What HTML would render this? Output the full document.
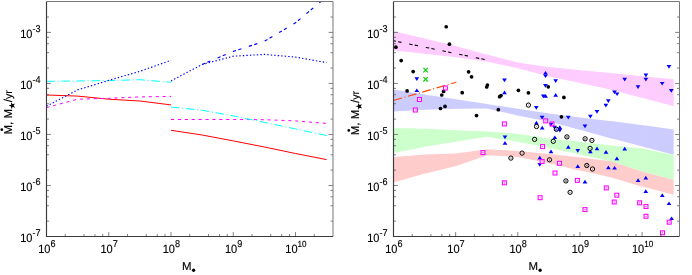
<!DOCTYPE html>
<html><head><meta charset="utf-8"><title>plot</title>
<style>
html,body{margin:0;padding:0;background:#fff;}
svg{display:block;}
text{font-family:"Liberation Sans",sans-serif;fill:#000;stroke:#000;stroke-width:0.12px;text-rendering:geometricPrecision;}
svg{will-change:transform;}
</style></head><body>
<svg width="692" height="275" viewBox="0 0 692 275">
<rect width="692" height="275" fill="#fff"/>
<polygon points="393.50,31.30 425.02,38.50 425.02,53.75 393.50,50.40" fill="#ffccff"/>
<polygon points="424.57,38.40 456.10,46.11 456.10,57.35 424.57,53.70" fill="#ffccff"/>
<polygon points="455.65,46.00 487.18,54.72 487.18,61.76 455.65,57.30" fill="#ffccff"/>
<polygon points="486.73,54.60 518.25,62.61 518.25,68.29 486.73,61.70" fill="#ffccff"/>
<polygon points="517.80,62.50 549.33,67.17 549.33,76.62 517.80,68.20" fill="#ffccff"/>
<polygon points="548.88,67.10 580.40,70.35 580.40,83.09 548.88,76.50" fill="#ffccff"/>
<polygon points="579.95,70.30 611.48,73.04 611.48,89.80 579.95,83.00" fill="#ffccff"/>
<polygon points="611.02,73.00 642.55,76.25 642.55,97.92 611.02,89.70" fill="#ffccff"/>
<polygon points="642.10,76.20 673.70,79.20 673.70,106.20 642.10,97.80" fill="#ffccff"/>
<polygon points="393.50,89.60 425.02,94.47 425.02,109.78 393.50,111.50" fill="#ccccff"/>
<polygon points="424.57,94.40 456.10,99.37 456.10,108.68 424.57,109.80" fill="#ccccff"/>
<polygon points="455.65,99.30 487.18,103.97 487.18,108.50 455.65,108.70" fill="#ccccff"/>
<polygon points="486.73,103.90 518.25,108.87 518.25,115.70 486.73,108.50" fill="#ccccff"/>
<polygon points="517.80,108.80 549.33,113.47 549.33,121.69 517.80,115.60" fill="#ccccff"/>
<polygon points="548.88,113.40 580.40,117.46 580.40,129.92 548.88,121.60" fill="#ccccff"/>
<polygon points="579.95,117.40 611.48,121.15 611.48,138.42 579.95,129.80" fill="#ccccff"/>
<polygon points="611.02,121.10 642.55,125.16 642.55,146.52 611.02,138.30" fill="#ccccff"/>
<polygon points="642.10,125.10 673.70,129.40 673.70,154.80 642.10,146.40" fill="#ccccff"/>
<polygon points="393.50,128.00 425.02,128.71 425.02,146.71 393.50,153.10" fill="#ccffcc"/>
<polygon points="424.57,128.70 456.10,130.32 456.10,141.73 424.57,146.80" fill="#ccffcc"/>
<polygon points="455.65,130.30 487.18,131.42 487.18,136.73 455.65,141.80" fill="#ccffcc"/>
<polygon points="486.73,131.40 518.25,133.83 518.25,141.87 486.73,136.80" fill="#ccffcc"/>
<polygon points="517.80,133.80 549.33,138.57 549.33,148.09 517.80,141.80" fill="#ccffcc"/>
<polygon points="548.88,138.50 580.40,141.85 580.40,154.59 548.88,148.00" fill="#ccffcc"/>
<polygon points="579.95,141.80 611.48,145.55 611.48,161.40 579.95,154.50" fill="#ccffcc"/>
<polygon points="611.02,145.50 642.55,148.44 642.55,171.75 611.02,161.30" fill="#ccffcc"/>
<polygon points="642.10,148.40 673.70,154.90 673.70,179.90 642.10,171.60" fill="#ccffcc"/>
<polygon points="393.50,157.00 425.02,154.46 425.02,173.57 393.50,182.60" fill="#ffcccc"/>
<polygon points="424.57,154.50 456.10,153.49 456.10,166.09 424.57,173.70" fill="#ffcccc"/>
<polygon points="455.65,153.50 487.18,149.24 487.18,155.14 455.65,166.20" fill="#ffcccc"/>
<polygon points="486.73,149.30 518.25,151.02 518.25,157.02 486.73,155.30" fill="#ffcccc"/>
<polygon points="517.80,151.00 549.33,153.94 549.33,163.29 517.80,157.00" fill="#ffcccc"/>
<polygon points="548.88,153.90 580.40,157.55 580.40,170.71 548.88,163.20" fill="#ffcccc"/>
<polygon points="579.95,157.50 611.48,161.36 611.48,177.60 579.95,170.60" fill="#ffcccc"/>
<polygon points="611.02,161.30 642.55,171.75 642.55,186.63 611.02,177.50" fill="#ffcccc"/>
<polygon points="642.10,171.60 673.70,179.90 673.70,194.80 642.10,186.50" fill="#ffcccc"/>
<polyline points="46.50,95.00 77.62,96.10 108.75,99.20 139.88,101.00 171.00,104.90" fill="none" stroke="#ff0000" stroke-width="1.00"/>
<polyline points="46.50,107.60 77.62,99.20 108.75,98.30 139.88,96.90 171.00,96.40" fill="none" stroke="#ff00ff" stroke-width="1.00" stroke-dasharray="3.1 3.8"/>
<polyline points="46.50,81.30 77.62,81.00 108.75,80.60 139.88,79.70 171.00,82.30" fill="none" stroke="#00ffff" stroke-width="1.00" stroke-dasharray="8.4 2.8 1 2.8"/>
<polyline points="46.50,106.20 77.62,89.90 108.75,80.40 139.88,71.30 171.00,60.30" fill="none" stroke="#0000ff" stroke-width="1.15" stroke-dasharray="1.4 2.1"/>
<polyline points="171.00,130.30 202.12,135.00 233.25,140.90 264.38,147.00 295.50,153.50 326.62,159.60" fill="none" stroke="#ff0000" stroke-width="1.00"/>
<polyline points="171.00,119.50 202.12,119.50 233.25,119.50 264.38,119.70 295.50,120.90 326.62,123.50" fill="none" stroke="#ff00ff" stroke-width="1.00" stroke-dasharray="3.1 3.8"/>
<polyline points="171.00,107.10 202.12,110.20 233.25,115.90 264.38,122.40 295.50,128.90 326.62,135.60" fill="none" stroke="#00ffff" stroke-width="1.00" stroke-dasharray="8.4 2.8 1 2.8"/>
<polyline points="171.00,80.90 202.12,64.50 233.25,56.20 264.38,54.40 295.50,57.10 326.62,62.60" fill="none" stroke="#0000ff" stroke-width="1.15" stroke-dasharray="1.4 2.1"/>
<polyline points="202.12,64.50 233.25,51.40 264.38,41.30 295.50,22.80 320.90,1.50" fill="none" stroke="#0000ff" stroke-width="1.15" stroke-dasharray="3.25 2.4 3.25 7.82"/>
<polyline points="393.5,40.75 492.5,61.1" fill="none" stroke="#000" stroke-width="1.05" stroke-dasharray="3.5 2.2 3.4 7.9" stroke-dashoffset="1.0"/>
<polyline points="393.50,100.50 456.30,82.20" fill="none" stroke="#ff4500" stroke-width="1.15" stroke-dasharray="8.8 2.6 1 2.6"/>
<circle cx="446.20" cy="26.75" r="1.85" fill="#000"/>
<circle cx="449.40" cy="44.20" r="1.85" fill="#000"/>
<circle cx="395.90" cy="47.20" r="1.85" fill="#000"/>
<circle cx="401.20" cy="60.60" r="1.85" fill="#000"/>
<circle cx="413.20" cy="71.60" r="1.85" fill="#000"/>
<circle cx="468.60" cy="71.80" r="1.85" fill="#000"/>
<circle cx="471.60" cy="76.80" r="1.85" fill="#000"/>
<circle cx="487.40" cy="85.00" r="1.85" fill="#000"/>
<circle cx="486.70" cy="87.00" r="1.85" fill="#000"/>
<circle cx="407.10" cy="90.90" r="1.85" fill="#000"/>
<circle cx="443.60" cy="91.40" r="1.85" fill="#000"/>
<circle cx="441.80" cy="95.00" r="1.85" fill="#000"/>
<circle cx="462.20" cy="92.70" r="1.85" fill="#000"/>
<circle cx="440.50" cy="108.50" r="1.85" fill="#000"/>
<circle cx="445.00" cy="106.40" r="1.85" fill="#000"/>
<circle cx="476.50" cy="115.60" r="1.85" fill="#000"/>
<circle cx="498.30" cy="109.70" r="1.85" fill="#000"/>
<circle cx="499.60" cy="96.70" r="1.85" fill="#000"/>
<circle cx="501.00" cy="95.60" r="1.85" fill="#000"/>
<circle cx="518.40" cy="90.30" r="1.85" fill="#000"/>
<circle cx="528.40" cy="92.80" r="1.85" fill="#000"/>
<circle cx="548.30" cy="86.80" r="1.85" fill="#000"/>
<circle cx="563.90" cy="97.40" r="1.85" fill="#000"/>
<circle cx="561.40" cy="116.80" r="1.85" fill="#000"/>
<polygon points="414.45,77.20 419.15,77.20 416.80,80.90" fill="#0000ff"/>
<polygon points="502.15,78.60 506.85,78.60 504.50,82.30" fill="#0000ff"/>
<polygon points="543.15,74.40 547.85,74.40 545.50,78.10" fill="#0000ff"/>
<polygon points="553.35,79.20 558.05,79.20 555.70,82.90" fill="#0000ff"/>
<polygon points="543.05,84.00 547.75,84.00 545.40,87.70" fill="#0000ff"/>
<polygon points="533.95,106.00 538.65,106.00 536.30,109.70" fill="#0000ff"/>
<polygon points="539.75,115.70 544.45,115.70 542.10,119.40" fill="#0000ff"/>
<polygon points="565.95,115.80 570.65,115.80 568.30,119.50" fill="#0000ff"/>
<polygon points="588.05,114.80 592.75,114.80 590.40,118.50" fill="#0000ff"/>
<polygon points="594.65,110.10 599.35,110.10 597.00,113.80" fill="#0000ff"/>
<polygon points="603.55,103.80 608.25,103.80 605.90,107.50" fill="#0000ff"/>
<polygon points="605.95,99.30 610.65,99.30 608.30,103.00" fill="#0000ff"/>
<polygon points="612.15,90.50 616.85,90.50 614.50,94.20" fill="#0000ff"/>
<polygon points="614.75,92.40 619.45,92.40 617.10,96.10" fill="#0000ff"/>
<polygon points="622.35,77.80 627.05,77.80 624.70,81.50" fill="#0000ff"/>
<polygon points="643.55,73.60 648.25,73.60 645.90,77.30" fill="#0000ff"/>
<polygon points="643.55,77.80 648.25,77.80 645.90,81.50" fill="#0000ff"/>
<polygon points="635.65,85.30 640.35,85.30 638.00,89.00" fill="#0000ff"/>
<polygon points="659.85,81.90 664.55,81.90 662.20,85.60" fill="#0000ff"/>
<polygon points="668.95,89.10 673.65,89.10 671.30,92.80" fill="#0000ff"/>
<polygon points="666.65,65.00 671.35,65.00 669.00,68.70" fill="#0000ff"/>
<polygon points="502.65,135.50 507.35,135.50 505.00,139.20" fill="#0000ff"/>
<polygon points="582.65,124.60 587.35,124.60 585.00,128.30" fill="#0000ff"/>
<polygon points="548.65,122.80 553.35,122.80 551.00,126.50" fill="#0000ff"/>
<polygon points="575.45,149.10 580.15,149.10 577.80,152.80" fill="#0000ff"/>
<polygon points="537.45,163.10 542.15,163.10 539.80,166.80" fill="#0000ff"/>
<polygon points="540.95,94.60 545.65,94.60 543.30,98.30" fill="#0000ff"/>
<polygon points="557.45,128.80 562.15,128.80 559.80,132.50" fill="#0000ff"/>
<polygon points="552.15,125.80 556.85,125.80 554.50,129.50" fill="#0000ff"/>
<polygon points="414.45,92.10 419.15,92.10 416.80,88.40" fill="#0000ff"/>
<polygon points="502.15,94.20 506.85,94.20 504.50,90.50" fill="#0000ff"/>
<polygon points="543.15,74.60 547.85,74.60 545.50,70.90" fill="#0000ff"/>
<polygon points="553.35,96.70 558.05,96.70 555.70,93.00" fill="#0000ff"/>
<polygon points="543.25,97.80 547.95,97.80 545.60,94.10" fill="#0000ff"/>
<polygon points="534.05,124.40 538.75,124.40 536.40,120.70" fill="#0000ff"/>
<polygon points="539.85,129.40 544.55,129.40 542.20,125.70" fill="#0000ff"/>
<polygon points="552.45,139.10 557.15,139.10 554.80,135.40" fill="#0000ff"/>
<polygon points="502.65,144.80 507.35,144.80 505.00,141.10" fill="#0000ff"/>
<polygon points="557.45,129.00 562.15,129.00 559.80,125.30" fill="#0000ff"/>
<polygon points="553.95,131.00 558.65,131.00 556.30,127.30" fill="#0000ff"/>
<polygon points="565.95,148.80 570.65,148.80 568.30,145.10" fill="#0000ff"/>
<polygon points="548.65,153.20 553.35,153.20 551.00,149.50" fill="#0000ff"/>
<polygon points="588.05,153.30 592.75,153.30 590.40,149.60" fill="#0000ff"/>
<polygon points="594.65,150.30 599.35,150.30 597.00,146.60" fill="#0000ff"/>
<polygon points="603.65,153.80 608.35,153.80 606.00,150.10" fill="#0000ff"/>
<polygon points="537.45,159.40 542.15,159.40 539.80,155.70" fill="#0000ff"/>
<polygon points="575.45,168.00 580.15,168.00 577.80,164.30" fill="#0000ff"/>
<polygon points="606.05,169.20 610.75,169.20 608.40,165.50" fill="#0000ff"/>
<polygon points="612.25,169.60 616.95,169.60 614.60,165.90" fill="#0000ff"/>
<polygon points="582.65,183.50 587.35,183.50 585.00,179.80" fill="#0000ff"/>
<polygon points="622.35,150.40 627.05,150.40 624.70,146.70" fill="#0000ff"/>
<polygon points="614.55,160.30 619.25,160.30 616.90,156.60" fill="#0000ff"/>
<polygon points="635.75,182.00 640.45,182.00 638.10,178.30" fill="#0000ff"/>
<polygon points="643.45,179.50 648.15,179.50 645.80,175.80" fill="#0000ff"/>
<polygon points="643.45,192.90 648.15,192.90 645.80,189.20" fill="#0000ff"/>
<polygon points="659.95,197.00 664.65,197.00 662.30,193.30" fill="#0000ff"/>
<polygon points="666.65,205.10 671.35,205.10 669.00,201.40" fill="#0000ff"/>
<polygon points="669.25,220.10 673.95,220.10 671.60,216.40" fill="#0000ff"/>
<circle cx="528.40" cy="105.10" r="2.15" fill="#fff" fill-opacity="0.25" stroke="#000" stroke-width="1.0"/>
<circle cx="528.40" cy="105.10" r="0.5" fill="#000" fill-opacity="0.55"/>
<circle cx="536.50" cy="126.50" r="2.15" fill="#fff" fill-opacity="0.25" stroke="#000" stroke-width="1.0"/>
<circle cx="536.50" cy="126.50" r="0.5" fill="#000" fill-opacity="0.55"/>
<circle cx="556.40" cy="129.30" r="2.15" fill="#fff" fill-opacity="0.55" stroke="#000" stroke-width="1.0"/>
<circle cx="556.40" cy="129.30" r="0.5" fill="#000" fill-opacity="0.55"/>
<circle cx="534.60" cy="139.40" r="2.15" fill="#fff" fill-opacity="0.25" stroke="#000" stroke-width="1.0"/>
<circle cx="534.60" cy="139.40" r="0.5" fill="#000" fill-opacity="0.55"/>
<circle cx="553.30" cy="141.30" r="2.15" fill="#fff" fill-opacity="0.25" stroke="#000" stroke-width="1.0"/>
<circle cx="553.30" cy="141.30" r="0.5" fill="#000" fill-opacity="0.55"/>
<circle cx="566.90" cy="136.90" r="2.15" fill="#fff" fill-opacity="0.25" stroke="#000" stroke-width="1.0"/>
<path d="M565.40 135.40l3 3M565.40 138.40l3 -3" stroke="#000" stroke-opacity="0.55" stroke-width="0.75" fill="none"/>
<circle cx="585.10" cy="138.80" r="2.15" fill="#fff" fill-opacity="0.25" stroke="#000" stroke-width="1.0"/>
<path d="M583.60 137.30l3 3M583.60 140.30l3 -3" stroke="#000" stroke-opacity="0.55" stroke-width="0.75" fill="none"/>
<circle cx="591.90" cy="140.40" r="2.15" fill="#fff" fill-opacity="0.25" stroke="#000" stroke-width="1.0"/>
<path d="M590.60 140.40h2.6" stroke="#000" stroke-opacity="0.55" stroke-width="0.7" fill="none"/>
<circle cx="590.10" cy="148.40" r="2.15" fill="#fff" fill-opacity="0.25" stroke="#000" stroke-width="1.0"/>
<circle cx="590.10" cy="148.40" r="0.5" fill="#000" fill-opacity="0.55"/>
<circle cx="522.10" cy="153.10" r="2.15" fill="#fff" fill-opacity="0.25" stroke="#000" stroke-width="1.0"/>
<circle cx="522.10" cy="153.10" r="0.5" fill="#000" fill-opacity="0.55"/>
<circle cx="510.90" cy="158.10" r="2.15" fill="#fff" fill-opacity="0.25" stroke="#000" stroke-width="1.0"/>
<path d="M509.60 158.10h2.6" stroke="#000" stroke-opacity="0.55" stroke-width="0.7" fill="none"/>
<circle cx="549.50" cy="159.80" r="2.15" fill="#fff" fill-opacity="0.25" stroke="#000" stroke-width="1.0"/>
<path d="M549.50 158.50v2.6" stroke="#000" stroke-opacity="0.55" stroke-width="0.7" fill="none"/>
<circle cx="586.80" cy="165.50" r="2.15" fill="#fff" fill-opacity="0.25" stroke="#000" stroke-width="1.0"/>
<path d="M585.30 164.00l3 3M585.30 167.00l3 -3" stroke="#000" stroke-opacity="0.55" stroke-width="0.75" fill="none"/>
<circle cx="592.50" cy="169.00" r="2.15" fill="#fff" fill-opacity="0.25" stroke="#000" stroke-width="1.0"/>
<circle cx="592.50" cy="169.00" r="0.5" fill="#000" fill-opacity="0.55"/>
<circle cx="565.90" cy="180.90" r="2.15" fill="#fff" fill-opacity="0.25" stroke="#000" stroke-width="1.0"/>
<path d="M564.40 179.40l3 3M564.40 182.40l3 -3" stroke="#000" stroke-opacity="0.55" stroke-width="0.75" fill="none"/>
<circle cx="570.10" cy="192.30" r="2.15" fill="#fff" fill-opacity="0.25" stroke="#000" stroke-width="1.0"/>
<path d="M568.80 192.30h2.6" stroke="#000" stroke-opacity="0.55" stroke-width="0.7" fill="none"/>
<rect x="443.42" y="86.03" width="3.95" height="3.95" fill="#fff" fill-opacity="0.6" stroke="#ff00ff" stroke-width="1.05"/>
<circle cx="445.40" cy="88.00" r="0.5" fill="#ff00ff" fill-opacity="0.75"/>
<rect x="417.52" y="97.53" width="3.95" height="3.95" fill="#fff" fill-opacity="0.6" stroke="#ff00ff" stroke-width="1.05"/>
<circle cx="419.50" cy="99.50" r="0.5" fill="#ff00ff" fill-opacity="0.75"/>
<rect x="413.42" y="108.03" width="3.95" height="3.95" fill="#fff" fill-opacity="0.6" stroke="#ff00ff" stroke-width="1.05"/>
<circle cx="415.40" cy="110.00" r="0.5" fill="#ff00ff" fill-opacity="0.75"/>
<rect x="502.42" y="121.93" width="3.95" height="3.95" fill="#fff" fill-opacity="0.6" stroke="#ff00ff" stroke-width="1.05"/>
<circle cx="504.40" cy="123.90" r="0.5" fill="#ff00ff" fill-opacity="0.75"/>
<rect x="481.02" y="150.62" width="3.95" height="3.95" fill="#fff" fill-opacity="0.6" stroke="#ff00ff" stroke-width="1.05"/>
<path d="M481.70 152.60h2.6" stroke="#ff00ff" stroke-opacity="0.75" stroke-width="0.7" fill="none"/>
<rect x="502.42" y="180.83" width="3.95" height="3.95" fill="#fff" fill-opacity="0.6" stroke="#ff00ff" stroke-width="1.05"/>
<path d="M504.40 181.50v2.6" stroke="#ff00ff" stroke-opacity="0.75" stroke-width="0.7" fill="none"/>
<rect x="543.73" y="118.93" width="3.95" height="3.95" fill="#fff" fill-opacity="0.6" stroke="#ff00ff" stroke-width="1.05"/>
<path d="M545.70 119.60v2.6" stroke="#ff00ff" stroke-opacity="0.75" stroke-width="0.7" fill="none"/>
<rect x="550.02" y="122.03" width="3.95" height="3.95" fill="#fff" fill-opacity="0" stroke="#ff00ff" stroke-width="1.05"/>
<rect x="540.62" y="144.62" width="3.95" height="3.95" fill="#fff" fill-opacity="0.6" stroke="#ff00ff" stroke-width="1.05"/>
<circle cx="542.60" cy="146.60" r="0.5" fill="#ff00ff" fill-opacity="0.75"/>
<rect x="540.12" y="159.53" width="3.95" height="3.95" fill="#fff" fill-opacity="0.6" stroke="#ff00ff" stroke-width="1.05"/>
<path d="M542.10 160.20v2.6" stroke="#ff00ff" stroke-opacity="0.75" stroke-width="0.7" fill="none"/>
<rect x="557.52" y="161.33" width="3.95" height="3.95" fill="#fff" fill-opacity="0.6" stroke="#ff00ff" stroke-width="1.05"/>
<circle cx="559.50" cy="163.30" r="0.5" fill="#ff00ff" fill-opacity="0.75"/>
<rect x="553.02" y="171.03" width="3.95" height="3.95" fill="#fff" fill-opacity="0.6" stroke="#ff00ff" stroke-width="1.05"/>
<circle cx="555.00" cy="173.00" r="0.5" fill="#ff00ff" fill-opacity="0.75"/>
<rect x="575.42" y="178.43" width="3.95" height="3.95" fill="#fff" fill-opacity="0.6" stroke="#ff00ff" stroke-width="1.05"/>
<circle cx="577.40" cy="180.40" r="0.5" fill="#ff00ff" fill-opacity="0.75"/>
<rect x="538.12" y="195.72" width="3.95" height="3.95" fill="#fff" fill-opacity="0.6" stroke="#ff00ff" stroke-width="1.05"/>
<circle cx="540.10" cy="197.70" r="0.5" fill="#ff00ff" fill-opacity="0.75"/>
<rect x="604.32" y="185.93" width="3.95" height="3.95" fill="#fff" fill-opacity="0.6" stroke="#ff00ff" stroke-width="1.05"/>
<path d="M606.30 186.60v2.6" stroke="#ff00ff" stroke-opacity="0.75" stroke-width="0.7" fill="none"/>
<rect x="614.82" y="193.22" width="3.95" height="3.95" fill="#fff" fill-opacity="0.6" stroke="#ff00ff" stroke-width="1.05"/>
<circle cx="616.80" cy="195.20" r="0.5" fill="#ff00ff" fill-opacity="0.75"/>
<rect x="612.23" y="200.03" width="3.95" height="3.95" fill="#fff" fill-opacity="0.6" stroke="#ff00ff" stroke-width="1.05"/>
<path d="M614.20 200.70v2.6" stroke="#ff00ff" stroke-opacity="0.75" stroke-width="0.7" fill="none"/>
<rect x="583.02" y="207.62" width="3.95" height="3.95" fill="#fff" fill-opacity="0.6" stroke="#ff00ff" stroke-width="1.05"/>
<path d="M583.70 209.60h2.6" stroke="#ff00ff" stroke-opacity="0.75" stroke-width="0.7" fill="none"/>
<rect x="637.62" y="200.83" width="3.95" height="3.95" fill="#fff" fill-opacity="0.6" stroke="#ff00ff" stroke-width="1.05"/>
<path d="M639.60 201.50v2.6" stroke="#ff00ff" stroke-opacity="0.75" stroke-width="0.7" fill="none"/>
<rect x="644.02" y="204.53" width="3.95" height="3.95" fill="#fff" fill-opacity="0.6" stroke="#ff00ff" stroke-width="1.05"/>
<path d="M644.70 206.50h2.6" stroke="#ff00ff" stroke-opacity="0.75" stroke-width="0.7" fill="none"/>
<rect x="644.02" y="214.33" width="3.95" height="3.95" fill="#fff" fill-opacity="0.6" stroke="#ff00ff" stroke-width="1.05"/>
<path d="M644.70 216.30h2.6" stroke="#ff00ff" stroke-opacity="0.75" stroke-width="0.7" fill="none"/>
<rect x="667.23" y="220.22" width="3.95" height="3.95" fill="#fff" fill-opacity="0.6" stroke="#ff00ff" stroke-width="1.05"/>
<path d="M667.90 222.20h2.6" stroke="#ff00ff" stroke-opacity="0.75" stroke-width="0.7" fill="none"/>
<rect x="660.52" y="230.83" width="3.95" height="3.95" fill="#fff" fill-opacity="0.6" stroke="#ff00ff" stroke-width="1.05"/>
<path d="M662.50 231.50v2.6" stroke="#ff00ff" stroke-opacity="0.75" stroke-width="0.7" fill="none"/>
<path d="M423.40 67.90L427.80 72.30M423.40 72.30L427.80 67.90" stroke="#00d000" stroke-width="1.15" fill="none"/>
<path d="M423.40 77.10L427.80 81.50M423.40 81.50L427.80 77.10" stroke="#00d000" stroke-width="1.15" fill="none"/>
<path d="M46.50 221.14h2.50M333.00 221.14h-2.50M46.50 205.78h2.50M333.00 205.78h-2.50M46.50 196.79h2.50M333.00 196.79h-2.50M46.50 190.42h2.50M333.00 190.42h-2.50M46.50 185.47h4.40M333.00 185.47h-4.40M46.50 170.11h2.50M333.00 170.11h-2.50M46.50 154.75h2.50M333.00 154.75h-2.50M46.50 145.76h2.50M333.00 145.76h-2.50M46.50 139.39h2.50M333.00 139.39h-2.50M46.50 134.44h4.40M333.00 134.44h-4.40M46.50 119.08h2.50M333.00 119.08h-2.50M46.50 103.72h2.50M333.00 103.72h-2.50M46.50 94.73h2.50M333.00 94.73h-2.50M46.50 88.36h2.50M333.00 88.36h-2.50M46.50 83.41h4.40M333.00 83.41h-4.40M46.50 68.05h2.50M333.00 68.05h-2.50M46.50 52.69h2.50M333.00 52.69h-2.50M46.50 43.70h2.50M333.00 43.70h-2.50M46.50 37.33h2.50M333.00 37.33h-2.50M46.50 32.38h4.40M333.00 32.38h-4.40M46.50 17.02h2.50M333.00 17.02h-2.50M65.24 236.50v-2.50M83.98 236.50v-2.50M94.94 236.50v-2.50M102.72 236.50v-2.50M108.75 236.50v-4.40M127.49 236.50v-2.50M146.23 236.50v-2.50M157.19 236.50v-2.50M164.97 236.50v-2.50M171.00 236.50v-4.40M189.74 236.50v-2.50M208.48 236.50v-2.50M219.44 236.50v-2.50M227.22 236.50v-2.50M233.25 236.50v-4.40M251.99 236.50v-2.50M270.73 236.50v-2.50M281.69 236.50v-2.50M289.47 236.50v-2.50M295.50 236.50v-4.40M314.24 236.50v-2.50" stroke="#555" stroke-width="0.75" fill="none"/>
<path d="M46.50 1.50V236.50H333.00" stroke="#3a3a3a" stroke-width="1.15" fill="none"/>
<path d="M46.50 1.50H333.00V236.50" stroke="#777" stroke-width="1" fill="none"/>
<path d="M393.50 221.14h2.50M679.50 221.14h-2.50M393.50 205.78h2.50M679.50 205.78h-2.50M393.50 196.79h2.50M679.50 196.79h-2.50M393.50 190.42h2.50M679.50 190.42h-2.50M393.50 185.47h4.40M679.50 185.47h-4.40M393.50 170.11h2.50M679.50 170.11h-2.50M393.50 154.75h2.50M679.50 154.75h-2.50M393.50 145.76h2.50M679.50 145.76h-2.50M393.50 139.39h2.50M679.50 139.39h-2.50M393.50 134.44h4.40M679.50 134.44h-4.40M393.50 119.08h2.50M679.50 119.08h-2.50M393.50 103.72h2.50M679.50 103.72h-2.50M393.50 94.73h2.50M679.50 94.73h-2.50M393.50 88.36h2.50M679.50 88.36h-2.50M393.50 83.41h4.40M679.50 83.41h-4.40M393.50 68.05h2.50M679.50 68.05h-2.50M393.50 52.69h2.50M679.50 52.69h-2.50M393.50 43.70h2.50M679.50 43.70h-2.50M393.50 37.33h2.50M679.50 37.33h-2.50M393.50 32.38h4.40M679.50 32.38h-4.40M393.50 17.02h2.50M679.50 17.02h-2.50M412.21 236.50v-2.50M430.92 236.50v-2.50M441.86 236.50v-2.50M449.63 236.50v-2.50M455.65 236.50v-4.40M474.36 236.50v-2.50M493.07 236.50v-2.50M504.01 236.50v-2.50M511.78 236.50v-2.50M517.80 236.50v-4.40M536.51 236.50v-2.50M555.22 236.50v-2.50M566.16 236.50v-2.50M573.93 236.50v-2.50M579.95 236.50v-4.40M598.66 236.50v-2.50M617.37 236.50v-2.50M628.31 236.50v-2.50M636.08 236.50v-2.50M642.10 236.50v-4.40M660.81 236.50v-2.50" stroke="#555" stroke-width="0.75" fill="none"/>
<path d="M393.50 1.50V236.50H679.50" stroke="#3a3a3a" stroke-width="1.15" fill="none"/>
<path d="M393.50 1.50H679.50V236.50" stroke="#777" stroke-width="1" fill="none"/>
<g transform="translate(38.20,252.6) scale(1,1.09)"><text x="0" y="0" font-size="11">10<tspan dy="-4.8" font-size="9.1">6</tspan></text></g>
<g transform="translate(100.45,252.6) scale(1,1.09)"><text x="0" y="0" font-size="11">10<tspan dy="-4.8" font-size="9.1">7</tspan></text></g>
<g transform="translate(162.70,252.6) scale(1,1.09)"><text x="0" y="0" font-size="11">10<tspan dy="-4.8" font-size="9.1">8</tspan></text></g>
<g transform="translate(224.95,252.6) scale(1,1.09)"><text x="0" y="0" font-size="11">10<tspan dy="-4.8" font-size="9.1">9</tspan></text></g>
<g transform="translate(285.30,252.6) scale(1,1.09)"><text x="0" y="0" font-size="11">10<tspan dy="-4.8" font-size="8.1">10</tspan></text></g>
<g transform="translate(40.50,241.90) scale(1,1.09)"><text x="0" y="0" font-size="11" text-anchor="end">10<tspan dy="-5.7" font-size="9.1">-7</tspan></text></g>
<g transform="translate(40.50,190.87) scale(1,1.09)"><text x="0" y="0" font-size="11" text-anchor="end">10<tspan dy="-5.7" font-size="9.1">-6</tspan></text></g>
<g transform="translate(40.50,139.84) scale(1,1.09)"><text x="0" y="0" font-size="11" text-anchor="end">10<tspan dy="-5.7" font-size="9.1">-5</tspan></text></g>
<g transform="translate(40.50,88.81) scale(1,1.09)"><text x="0" y="0" font-size="11" text-anchor="end">10<tspan dy="-5.7" font-size="9.1">-4</tspan></text></g>
<g transform="translate(40.50,37.78) scale(1,1.09)"><text x="0" y="0" font-size="11" text-anchor="end">10<tspan dy="-5.7" font-size="9.1">-3</tspan></text></g>
<g transform="translate(385.20,252.6) scale(1,1.09)"><text x="0" y="0" font-size="11">10<tspan dy="-4.8" font-size="9.1">6</tspan></text></g>
<g transform="translate(447.35,252.6) scale(1,1.09)"><text x="0" y="0" font-size="11">10<tspan dy="-4.8" font-size="9.1">7</tspan></text></g>
<g transform="translate(509.50,252.6) scale(1,1.09)"><text x="0" y="0" font-size="11">10<tspan dy="-4.8" font-size="9.1">8</tspan></text></g>
<g transform="translate(571.65,252.6) scale(1,1.09)"><text x="0" y="0" font-size="11">10<tspan dy="-4.8" font-size="9.1">9</tspan></text></g>
<g transform="translate(631.90,252.6) scale(1,1.09)"><text x="0" y="0" font-size="11">10<tspan dy="-4.8" font-size="8.1">10</tspan></text></g>
<g transform="translate(387.50,241.90) scale(1,1.09)"><text x="0" y="0" font-size="11" text-anchor="end">10<tspan dy="-5.7" font-size="9.1">-7</tspan></text></g>
<g transform="translate(387.50,190.87) scale(1,1.09)"><text x="0" y="0" font-size="11" text-anchor="end">10<tspan dy="-5.7" font-size="9.1">-6</tspan></text></g>
<g transform="translate(387.50,139.84) scale(1,1.09)"><text x="0" y="0" font-size="11" text-anchor="end">10<tspan dy="-5.7" font-size="9.1">-5</tspan></text></g>
<g transform="translate(387.50,88.81) scale(1,1.09)"><text x="0" y="0" font-size="11" text-anchor="end">10<tspan dy="-5.7" font-size="9.1">-4</tspan></text></g>
<g transform="translate(387.50,37.78) scale(1,1.09)"><text x="0" y="0" font-size="11" text-anchor="end">10<tspan dy="-5.7" font-size="9.1">-3</tspan></text></g>
<text x="181.90" y="270.0" font-size="11.44">M</text>
<circle cx="193.60" cy="270.25" r="1.65" fill="#000"/>
<text x="528.40" y="270.0" font-size="11.44">M</text>
<circle cx="540.10" cy="270.25" r="1.65" fill="#000"/>
<g transform="translate(12.00,134.50) rotate(-90)"><text x="0" y="0" font-size="11.44">M, M</text><circle cx="4.8" cy="-10.2" r="1.4" fill="#000"/><polygon points="28.90,-3.35 29.72,-0.88 32.32,-0.86 30.23,0.68 31.02,3.16 28.90,1.65 26.78,3.16 27.57,0.68 25.48,-0.86 28.08,-0.88" fill="#000"/><text x="32.2" y="0" font-size="11.44">/</text><text x="35.4" y="0" font-size="10.7">yr</text></g>
<g transform="translate(359.00,135.20) rotate(-90)"><text x="0" y="0" font-size="11.44">M, M</text><circle cx="4.8" cy="-10.2" r="1.4" fill="#000"/><polygon points="28.90,-3.35 29.72,-0.88 32.32,-0.86 30.23,0.68 31.02,3.16 28.90,1.65 26.78,3.16 27.57,0.68 25.48,-0.86 28.08,-0.88" fill="#000"/><text x="32.2" y="0" font-size="11.44">/</text><text x="35.4" y="0" font-size="10.7">yr</text></g>
</svg>
</body></html>
